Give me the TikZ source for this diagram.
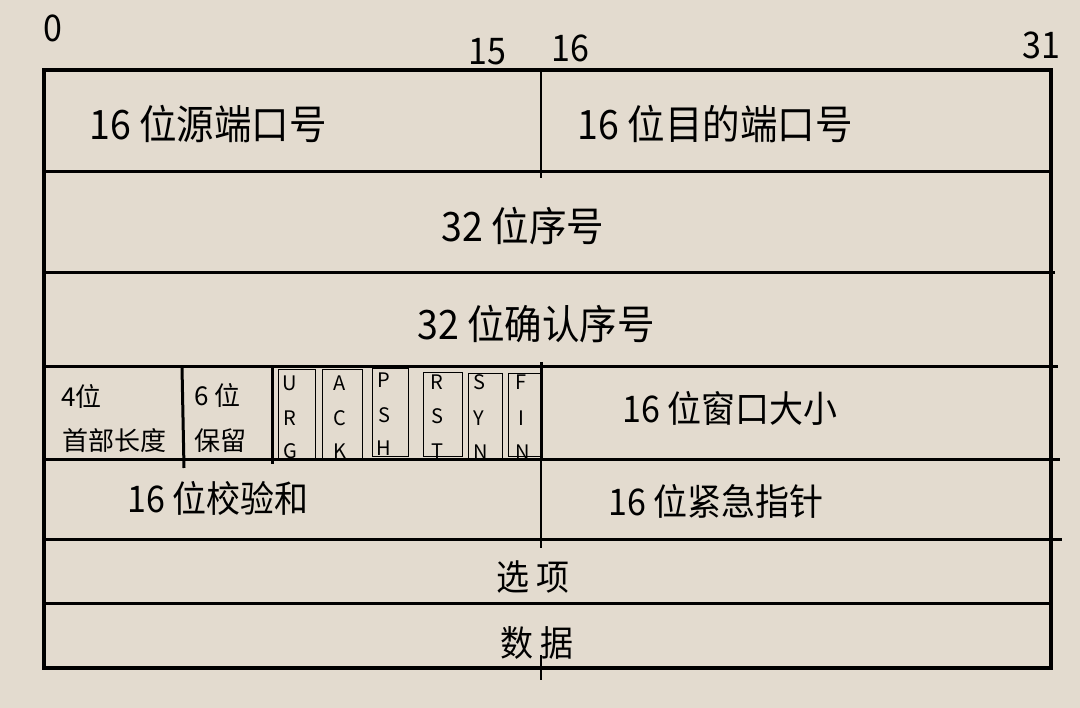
\documentclass[tikz,border=0pt]{standalone}
\usepackage{fontspec}
\setmainfont{Noto Sans CJK SC}
\definecolor{bg}{RGB}{227,219,207}
\tikzset{
  big/.style={inner sep=0pt, font=\fontsize{37.5}{40}\selectfont},
  big2/.style={inner sep=0pt, font=\fontsize{34}{38}\selectfont},
  mid/.style={inner sep=0pt, font=\fontsize{26}{30}\selectfont},
  flag/.style={inner sep=0pt, font=\fontsize{20}{22}\selectfont},
  frame/.style={line width=4pt},
  sep/.style={line width=3pt},
  thin/.style={line width=1.8pt},
  fbox/.style={line width=1pt},
}
\newcommand\tall[1]{\scalebox{1}[1.08]{#1}}
\begin{document}
\begin{tikzpicture}[x=1pt,y=-1pt]
\useasboundingbox[fill=bg] (0,0) rectangle (1080,708);
% bit numbers
\node[big2] (b0) at (53,28) {\tall{0}};
\node[big2] (b15) at (487,52) {\tall{15}};
\node[big2] (b16) at (570,48) {\tall{16}};
\node[big2] (b31) at (1041,45) {\tall{31}};
% row separators
\draw[sep] (44,172) -- (1051,172);
\draw[sep] (44,273) -- (1055,273);
\draw[sep] (44,367) -- (1058,367);
\draw[sep] (44,460) -- (1060,460);
\draw[sep] (44,540) -- (1062,540);
\draw[sep] (44,603) -- (1051,603);
% verticals
\draw[thin] (541,70) -- (541,178);
\draw[sep] (541,362) -- (541,460);
\draw[thin] (541,460) -- (541,548);
\draw[thin] (541,655) -- (541,680);
\draw[sep] (182,367) -- (184,468);
\draw[sep] (272,367) -- (272,464);
% flag boxes
\draw[fbox] (278,370) rectangle (315,460);
\draw[fbox] (322,370) rectangle (362,460);
\draw[fbox] (372,369) rectangle (408,457);
\draw[fbox] (423,373) rectangle (462,457);
\draw[fbox] (468,374) rectangle (502,460);
\draw[fbox] (508,374) rectangle (540,457);
% outer frame
\draw[frame] (44,70) rectangle (1051,668);
% texts
\node[big] (src) at (208,124) {\tall{16 位源端口号}};
\node[big] (dst) at (715,124) {\tall{16 位目的端口号}};
\node[big] (seq) at (523,226) {\tall{32 位序号}};
\node[big] (ack) at (536,324) {\tall{32 位确认序号}};
\node[mid, anchor=west] (hl1) at (61,397) {4位};
\node[mid, anchor=west] (hl2) at (62,441) {首部长度};
\node[mid, anchor=west] (rs1) at (194,396) {6 位};
\node[mid, anchor=west] (rs2) at (194,441) {保留};
\node[flag] (u1) at (290,383) {U};
\node[flag] (u2) at (290,418) {R};
\node[flag] (u3) at (290,451) {G};
\node[flag] (a1) at (340,383) {A};
\node[flag] (a2) at (340,418) {C};
\node[flag] (a3) at (340,451) {K};
\node[flag] (p1) at (384,380) {P};
\node[flag] (p2) at (384,415) {S};
\node[flag] (p3) at (384,448) {H};
\node[flag] (r1) at (437,382) {R};
\node[flag] (r2) at (437,416) {S};
\node[flag] (r3) at (437,451) {T};
\node[flag] (s1) at (479,382) {S};
\node[flag] (s2) at (479,418) {Y};
\node[flag] (s3) at (481,452) {N};
\node[flag] (f1) at (521,382) {F};
\node[flag] (f2) at (521,418) {I};
\node[flag] (f3) at (523,452) {N};
\node[big2] (win) at (730,408) {\tall{16 位窗口大小}};
\node[big2] (chk) at (218,498) {\tall{16 位校验和}};
\node[big2] (urg) at (716,501) {\tall{16 位紧急指针}};
\node[inner sep=0pt, font=\fontsize{33}{36}\selectfont] (opt) at (533,577) {\tall{选 项}};
\node[inner sep=0pt, font=\fontsize{33}{36}\selectfont] (dat) at (537,643) {\tall{数 据}};
\end{tikzpicture}
\end{document}
